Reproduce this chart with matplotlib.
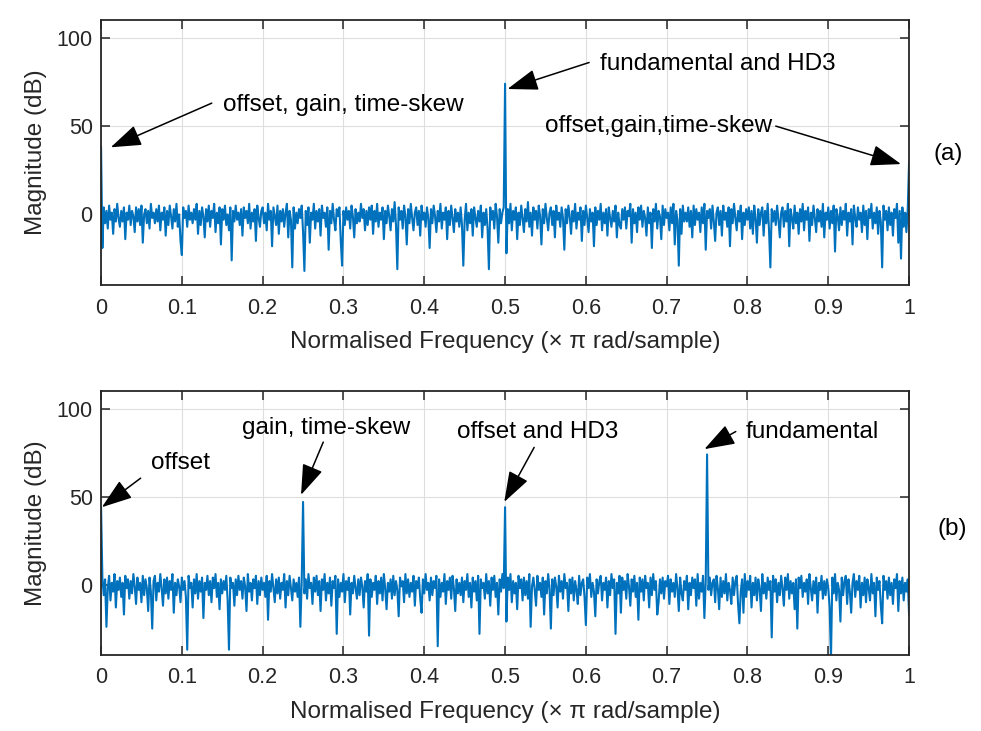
import numpy as np
import matplotlib.pyplot as plt

plt.rcParams['font.family'] = ['Liberation Sans', 'DejaVu Sans']

freq_ticks = [0, 0.1, 0.2, 0.3, 0.4, 0.5, 0.6, 0.7, 0.8, 0.9, 1.0]
freq_labels = ['0', '0.1', '0.2', '0.3', '0.4', '0.5', '0.6', '0.7', '0.8', '0.9', '1']
mag_ticks = [0, 50, 100]

# noise floor (dB), 601 bins from 0 to 1
noise_a = [
    0, -19, 4, -5, 2, -8, 5, -3, 1, -11, 3, -4, 6, -2, -7, 2, -4, 4, -14, 1,
    -3, 5, -6, 2, -1, -10, 4, -4, 3, -6, 5, -16, 0, 3, -5, 2, -8, 6, -2, 1,
    -5, 3, -4, 5, -9, 1, -3, 4, -12, 2, -6, 5, -1, -8, 3, -4, 6, -7, 0, -15,
    -23, 4, -2, 2, -7, 5, -3, 1, -5, 3, -3, 6, -11, 2, -6, 4, -1, -13, 3, -4,
    5, -7, 2, -2, 6, -10, 1, -5, 4, -17, 3, -3, 5, -6, 0, -9, 4, -26, 2, -4,
    5, -3, 1, -6, 3, -12, 4, -2, 2, -5, 6, -8, 1, -4, 3, -15, 5, -2, -7, 2,
    4, -5, 1, -9, 6, -3, 2, -18, 4, -1, -6, 5, -11, 2, -4, 3, -7, 1, 6, -13,
    2, -3, -30, 4, -8, 1, -5, 3, -2, 5, -10, -32, 2, -6, 4, -16, 1, -3, 6, -8,
    2, -4, 3, -12, 5, -2, 1, -7, 4, -20, 2, -5, 6, -3, -9, 3, -1, 4, -15, -29,
    2, -6, 4, -3, 2, -8, 5, -1, -13, 3, -5, 1, -4, 6, -2, 3, -9, 2, -6, 4,
    -3, 5, -11, 2, -4, 6, -7, 1, -3, 4, -14, 2, -5, 5, -1, -9, 3, -4, 7, -6,
    -31, 4, -3, 2, -8, 5, -1, -17, 3, -5, 6, -2, -9, 1, 4, -6, 2, -12, 5, -3,
    1, -7, 4, -2, -19, 3, -5, 5, -1, -10, 2, -4, 6, -8, 1, -3, 4, -14, 2, -6,
    5, -2, -10, 3, -4, 1, -7, 4, -6, -29, -3, 6, -9, 1, -5, 3, -12, 4, -2, -7,
    2, -4, 5, -13, 1, -6, 3, -8, -31, 4, -3, 2, -8, 6, -1, -16, 3, -5, 1, 4,
    0, -22, 3, -5, 6, -9, 2, -3, 4, -14, 1, -6, 5, -2, -10, 3, -4, 7, -7, 1,
    -12, 4, -3, 2, -8, 5, -1, -17, 3, -5, 6, -2, -9, 1, 4, -6, 2, -13, 5, -3,
    1, -7, 4, -2, -20, 3, -5, 5, -1, -11, 2, -4, 6, -8, 1, -3, 4, -15, 2, -6,
    5, -2, -10, 3, -4, 1, -18, 4, -6, 2, -3, 6, -9, 1, -5, 3, -12, 4, -2, -7,
    2, -4, 5, -13, 1, -6, -8, 3, -3, 4, -8, 2, -1, 6, -16, 3, -5, 1, -10, 4,
    -3, 5, -7, 2, -2, -12, 4, -5, 1, -19, 3, -4, 6, -8, 2, -1, -14, 5, -6, 3,
    -2, 1, -9, 4, -5, 6, -17, 2, -3, -29, 3, -11, 5, -4, 1, -4, 4, -7, 2, -13,
    5, -6, 3, -3, 1, -10, 4, -5, 6, -20, 2, -2, 3, -8, 5, -4, -15, 1, 4, -6,
    2, -12, 5, -3, 1, -7, 4, -18, 3, -5, 6, -2, -9, 2, -4, 5, -14, 1, -6, 3,
    -3, 4, -8, 2, -11, 5, -2, -16, 3, -6, 1, 4, -12, 2, -5, 6, -9, -30, 3, -4,
    2, -6, 5, -3, -13, 1, 4, -7, 2, -4, 6, -18, 3, -2, -8, 5, -5, 1, -11, 3,
    -4, 6, -9, 2, -3, 4, -15, 1, -6, 5, -2, -10, 3, -4, 2, -7, 6, -13, 1, -3,
    4, -8, 2, -5, 5, -21, 3, -1, -9, 4, -6, 2, -3, 6, -12, 1, -4, 3, -17, 5,
    -2, -7, 4, -3, 1, -10, 5, -6, 2, -14, 3, -2, 6, -8, 1, -5, 4, -11, 2, -4,
    -30, 5, -3, 2, -9, 4, -6, 1, -12, 3, -2, 6, -16, 2, -25, 4, -7, 1, -10, 3,
    0,
]
noise_b = [
    0, 4, -6, 3, -24, -2, 5, -9, 1, -4, 6, -13, 2, -3, 4, -7, 1, -17, 5, -2,
    3, -8, 2, -5, 6, -1, -11, 4, -3, 1, -10, 5, -6, 3, -2, -15, 4, -4, -25, 2,
    5, -9, 1, -4, 6, -2, -12, 3, -5, 4, -8, 2, -3, 6, -16, 1, -6, 3, -1, -10,
    4, -3, 2, -7, -37, 5, -2, 1, -13, 3, -5, 6, -8, 2, -4, 4, -19, 1, -3, 5,
    -6, 2, -10, 4, -2, 6, -7, 1, -14, 3, -5, 2, -3, 5, -9, -37, 4, -2, 1, -12,
    3, -6, 5, -3, 2, -8, 4, -1, -15, 6, -4, 1, -9, 3, -2, 5, -11, 2, -6, 4,
    -3, 1, -7, 5, -20, 2, -4, 6, -2, -10, 3, -5, 4, -8, 1, -3, 6, -13, 2, -6,
    5, -2, -9, 3, -4, 1, -7, 4, -24, 2, 0, -5, 3, -8, 6, -2, 1, -11, 4, -4,
    5, -6, 2, -15, 3, -3, 6, -9, 1, -5, 4, -12, 2, -2, 5, -28, 3, -7, 1, -4,
    6, -10, 2, -3, 4, -17, 1, -5, 5, -2, -8, 3, -6, 4, -1, -13, 2, -4, 6, -29,
    3, -7, 1, -3, 5, -11, 2, -5, 4, -9, 6, -2, -14, 1, -4, 3, -8, 5, -6, 2,
    -3, -18, 4, -1, 2, -10, 6, -5, 3, -7, 1, -4, 5, -12, 2, -2, 4, -8, -16, 3,
    -5, 6, -3, 1, -9, 4, -6, 2, -2, 5, -35, 3, -7, 1, -4, 6, -11, 2, -3, 4,
    -8, 5, -2, -15, 3, -5, 1, -6, 4, -10, 2, -3, 6, -7, 1, -13, 4, -4, 2, -9,
    5, -28, 3, -2, 1, -8, 6, -5, 2, -12, 4, -3, 5, -7, 1, -17, 3, -4, 6, -2,
    0, -21, 4, -3, 6, -10, 2, -5, 1, -14, 5, -2, 3, -9, 4, -6, 2, -8, 6, -24,
    -1, 4, -3, -12, 5, -3, 1, -7, 4, -17, 2, -5, 6, -2, -25, 3, -6, 4, -1, -13,
    5, -4, 2, -8, 6, -2, 1, -15, 3, -5, 4, -9, 2, -3, -11, 5, -6, 1, 3, -7,
    -23, 4, -2, 6, -7, 1, -4, -18, 3, -5, 2, 5, -9, 1, -3, 4, -13, 2, -6, 6,
    -2, 3, -28, 1, -5, 5, -16, 4, -3, 2, -8, 6, -1, -12, 3, -4, 5, -7, 1, -20,
    4, -4, 3, -9, 5, -2, 1, -13, 4, -6, 6, -3, 2, -17, -10, 3, -5, 4, -8, 2,
    -1, 5, -11, 3, -4, 1, -7, 6, -2, -15, 4, -5, -9, 2, -3, 5, -14, 1, -6, 4,
    -2, 3, -12, 6, -8, 1, -4, 5, -19, 2, 0, -3, 4, -6, 1, 3, -10, 5, -2, -14,
    4, -7, 2, -5, 6, -9, 1, -3, -11, 4, -6, 2, 5, -11, -22, -4, 3, -16, 6, -7,
    2, -3, 5, -13, 1, -6, 4, -9, 3, -2, -15, 6, -5, 1, -8, 4, -3, 2, -30, 5,
    -4, 3, -10, 1, -6, 5, -2, -12, 4, -3, 6, -8, 2, -5, 1, -14, 3, -25, 4, -2,
    5, -7, 1, -4, 3, -11, 6, -2, -9, 2, -5, 4, -16, 1, -3, 5, -8, 2, -6, 3,
    -2, -13, -42, 4, -5, 6, -9, 1, -3, -21, 4, -6, 2, 5, -11, 3, -4, -16, 1, 6,
    -7, 2, -3, 5, -13, 1, -6, 4, -10, 3, -2, -9, 6, -5, 1, -18, 4, -3, 2, -12,
    -22, 5, -3, 2, -8, 4, -6, 1, -11, 3, -2, 6, -15, 2, -5, 4, -9, 1, -4, 3,
    -17,
]

# spectral peaks (normalised frequency, dB)
peaks_a_freq = [0.0, 0.5, 1.0]
peaks_a_db = [38, 74, 30]
peaks_b_freq = [0.0, 0.25, 0.5, 0.75]
peaks_b_db = [44, 47, 44, 74]


def spectrum(noise, pk_freq, pk_db):
    y = np.array(noise, dtype=float)
    f = np.linspace(0, 1, len(y))
    for pf, pd in zip(pk_freq, pk_db):
        y[int(round(pf * (len(y) - 1)))] = pd
    return f, y


def style(ax):
    ax.set_xlim(0, 1)
    ax.set_ylim(-40, 110)
    ax.set_xticks(freq_ticks)
    ax.set_xticklabels(freq_labels)
    ax.set_yticks(mag_ticks)
    ax.tick_params(direction='in', length=6.5, width=1.1, top=True, right=True,
                   labelsize=15.5, colors='#262626')
    ax.tick_params(axis='x', pad=9)
    ax.tick_params(axis='y', pad=6)
    ax.grid(True, color='#dedede', lw=0.8)
    ax.set_axisbelow(True)
    for s in ax.spines.values():
        s.set_linewidth(1.3)
        s.set_color('#262626')
    ax.set_xlabel('Normalised Frequency (\u00d7 \u03c0 rad/sample)', fontsize=17.5,
                  color='#262626', labelpad=9)
    ax.set_ylabel('Magnitude (dB)', fontsize=17.5, color='#262626', labelpad=7)


def arrow(ax, text, tip, tail, textpos):
    ax.annotate('', xy=tip, xytext=tail,
                arrowprops=dict(arrowstyle='-|>,head_length=0.95,head_width=0.33',
                                mutation_scale=20, color='black', lw=1.1,
                                shrinkA=0, shrinkB=0))
    ax.text(textpos[0], textpos[1], text, fontsize=17.5, va='center', ha='left')


fig = plt.figure(figsize=(9.81, 7.31), dpi=100)
ax1 = fig.add_axes([0.103, 0.610, 0.8237, 0.3625])
ax2 = fig.add_axes([0.103, 0.104, 0.8237, 0.361])

f, y = spectrum(noise_a, peaks_a_freq, peaks_a_db)
ax1.plot(f, y, color='#0072BD', lw=1.5)
style(ax1)
arrow(ax1, 'offset, gain, time-skew', (0.012, 38), (0.137, 63), (0.151, 62))
arrow(ax1, 'fundamental and HD3', (0.503, 71), (0.604, 86), (0.618, 85))
arrow(ax1, 'offset,gain,time-skew', (0.990, 28.5), (0.835, 50), (0.549, 50))
fig.text(0.967, 0.790, '(a)', fontsize=17.5, ha='center', va='center')

f, y = spectrum(noise_b, peaks_b_freq, peaks_b_db)
ax2.plot(f, y, color='#0072BD', lw=1.5)
style(ax2)
arrow(ax2, 'offset', (0.001, 44), (0.049, 60.5), (0.0615, 69))
arrow(ax2, 'gain, time-skew', (0.2475, 51), (0.275, 81), (0.175, 89))
arrow(ax2, 'offset and HD3', (0.499, 47), (0.536, 78), (0.440, 87))
arrow(ax2, 'fundamental', (0.7467, 77), (0.7855, 87), (0.798, 87))
fig.text(0.971, 0.277, '(b)', fontsize=17.5, ha='center', va='center')

fig.savefig('out.png', dpi=100)
